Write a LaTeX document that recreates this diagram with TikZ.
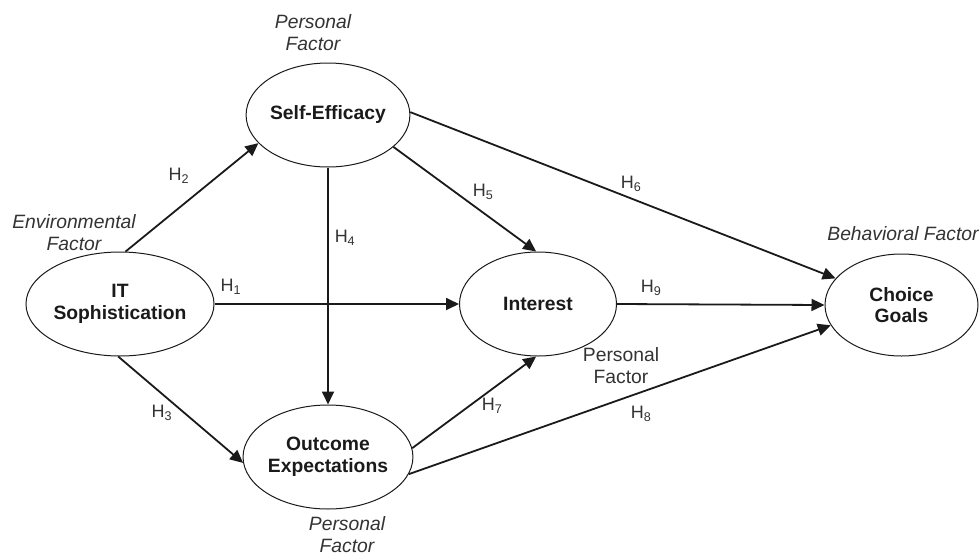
\documentclass[tikz,border=0pt]{standalone}
\usepackage{fontspec}
\setmainfont{Liberation Sans}
\usetikzlibrary{shapes.geometric,arrows.meta}
\definecolor{txt}{HTML}{333333}
\definecolor{bld}{HTML}{1A1A1A}
\begin{document}
\begin{tikzpicture}[x=1pt,y=-1pt,
  construct/.style={ellipse,draw=bld,line width=1pt,inner sep=0pt,
    minimum width=157pt,minimum height=104pt,align=center,
    font=\fontsize{19.3}{21.5}\selectfont\bfseries,text=bld},
  path/.style={draw=bld,line width=1.8pt,-{Triangle[length=13pt,width=12pt]}},
  hlab/.style={font=\fontsize{18}{20}\selectfont,text=txt,inner sep=0pt},
  factor/.style={font=\fontsize{19.3}{22}\selectfont\itshape,text=txt,align=center,inner sep=0pt},
  factorup/.style={font=\fontsize{19.3}{22}\selectfont,text=txt,align=center,inner sep=0pt}]
\useasboundingbox (0,0) rectangle (980,557);

\node[construct] (it) at (120,304) {IT\\Sophistication};
\node[construct] (se) at (328,115) {Self-Efficacy};
\node[construct] (oe) at (328,457) {Outcome\\Expectations};
\node[construct] (in) at (538,304) {Interest};
\node[construct,minimum width=153pt,minimum height=102pt] (cg) at (901.5,305) {Choice\\Goals};

\draw[path] (it.84) -- (se.202);
\draw[path] (it.east) -- (in.west);
\draw[path] (it.268) -- (oe.184);
\draw[path] (se.south) -- (oe.north);
\draw[path] (se.334) -- (in.92);
\draw[path] (se.2) -- (cg.158);
\draw[path] (in.east) -- (cg.west);
\draw[path] (oe.6) -- (in.268);
\draw[path] (oe.348) -- (cg.196);

\node[hlab] (h1) at (231,287) {H\textsubscript{1}};
\node[hlab] (h2) at (179,176) {H\textsubscript{2}};
\node[hlab] (h3) at (162,413) {H\textsubscript{3}};
\node[hlab] (h4) at (345,238) {H\textsubscript{4}};
\node[hlab] (h5) at (483,192) {H\textsubscript{5}};
\node[hlab] (h6) at (631,184) {H\textsubscript{6}};
\node[hlab] (h7) at (492,406) {H\textsubscript{7}};
\node[hlab] (h8) at (641,414) {H\textsubscript{8}};
\node[hlab] (h9) at (651,288) {H\textsubscript{9}};

\node[factor] (fse) at (313,33) {Personal\\Factor};
\node[factor] (fit) at (74,233) {Environmental\\Factor};
\node[factor] (fcg) at (903,234) {Behavioral Factor};
\node[factorup] (fin) at (621,366) {Personal\\Factor};
\node[factor] (foe) at (347,535) {Personal\\Factor};
\end{tikzpicture}
\end{document}
